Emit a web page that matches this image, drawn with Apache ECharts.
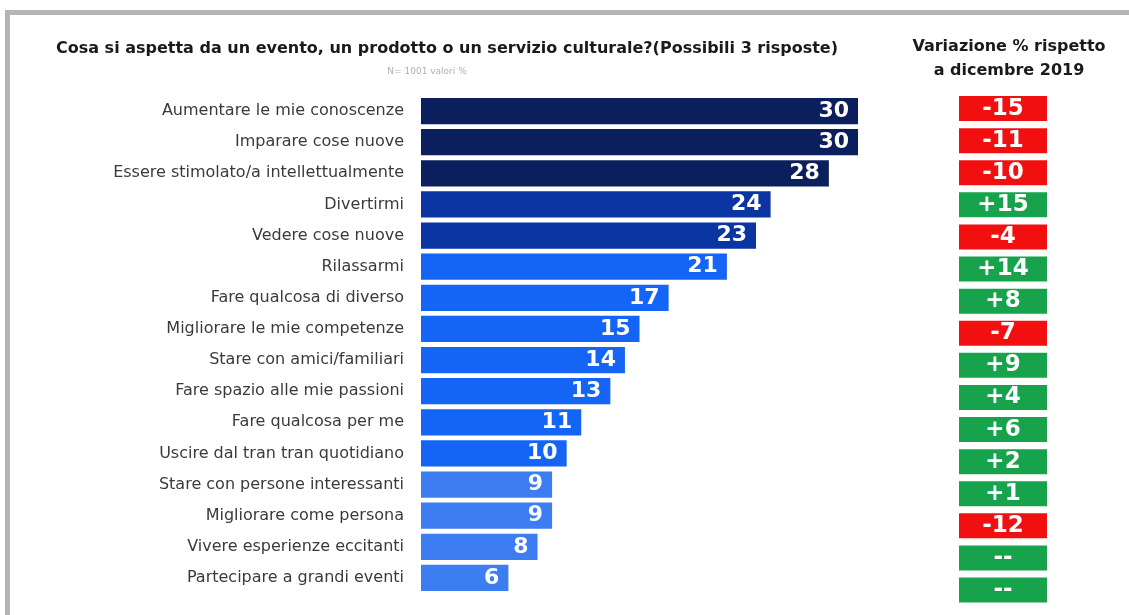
<!DOCTYPE html>
<html>
<head>
<meta charset="utf-8">
<script src="https://cdn.jsdelivr.net/npm/echarts@6/dist/echarts.min.js"></script>
<style>
  html, body { margin: 0; padding: 0; background: #ffffff; }
  #chart { width: 1129px; height: 615px; }
</style>
</head>
<body>
<div id="chart"></div>
<script>
// Survey answers, top to bottom
const categories = [
  'Aumentare le mie conoscenze',
  'Imparare cose nuove',
  'Essere stimolato/a intellettualmente',
  'Divertirmi',
  'Vedere cose nuove',
  'Rilassarmi',
  'Fare qualcosa di diverso',
  'Migliorare le mie competenze',
  'Stare con amici/familiari',
  'Fare spazio alle mie passioni',
  'Fare qualcosa per me',
  'Uscire dal tran tran quotidiano',
  'Stare con persone interessanti',
  'Migliorare come persona',
  'Vivere esperienze eccitanti',
  'Partecipare a grandi eventi'
];

// Share of respondents (%)
const values = [30, 30, 28, 24, 23, 21, 17, 15, 14, 13, 11, 10, 9, 9, 8, 6];

// Change vs. December 2019 (percentage points); '--' = not available
const variations = ['-15', '-11', '-10', '+15', '-4', '+14', '+8', '-7', '+9', '+4', '+6', '+2', '+1', '-12', '--', '--'];

const titleText = 'Cosa si aspetta da un evento, un prodotto o un servizio culturale?(Possibili 3 risposte)';
const subtitleText = 'N= 1001 valori %';
const sideTitleText = 'Variazione % rispetto\na dicembre 2019';

const FONT = '"DejaVu Sans", sans-serif';

// Bar shade by value band
function barColor(v) {
  if (v >= 28) return '#0b1f5c';
  if (v >= 23) return '#0a35a3';
  if (v >= 10) return '#1464f5';
  return '#3c7df2';
}

function boxColor(s) {
  return (s.charAt(0) === '-' && s !== '--') ? '#f20f0f' : '#17a24c';
}

const chart = echarts.init(document.getElementById('chart'), null, { renderer: 'canvas' });

chart.setOption({
  backgroundColor: '#ffffff',
  animation: false,
  graphic: [
    { type: 'rect', shape: { x: 5, y: 10, width: 1124, height: 5 }, style: { fill: '#b5b5b5' } },
    { type: 'rect', shape: { x: 5, y: 10, width: 5, height: 605 }, style: { fill: '#b5b5b5' } }
  ],
  title: [
    {
      text: titleText,
      left: 442, top: 36, textAlign: 'center',
      textStyle: { fontFamily: FONT, fontSize: 16, fontWeight: 'bold', color: '#1a1a1a' }
    },
    {
      text: subtitleText,
      left: 422, top: 62, textAlign: 'center',
      textStyle: { fontFamily: FONT, fontSize: 9, fontWeight: 'normal', color: '#b0b0b0' }
    },
    {
      text: sideTitleText,
      left: 1004, top: 30, textAlign: 'center',
      textStyle: { fontFamily: FONT, fontSize: 16, fontWeight: 'bold', color: '#1a1a1a', lineHeight: 24 }
    }
  ],
  grid: [
    { left: 421, top: 95.5, width: 437, height: 498 },
    { left: 959, top: 92.5, width: 88, height: 513.6 }
  ],
  xAxis: [
    { gridIndex: 0, type: 'value', min: 0, max: 30, show: false },
    { gridIndex: 1, type: 'category', data: [''], show: false }
  ],
  yAxis: [
    {
      gridIndex: 0, type: 'category', data: categories, inverse: true,
      axisLine: { show: false }, axisTick: { show: false },
      axisLabel: { margin: 17, fontFamily: FONT, fontSize: 16, color: '#3a3a3a' }
    },
    {
      gridIndex: 1, type: 'category', data: categories, inverse: true, show: false
    }
  ],
  series: [
    {
      type: 'bar',
      xAxisIndex: 0, yAxisIndex: 0,
      barCategoryGap: '16%',
      data: values.map(v => ({ value: v, itemStyle: { color: barColor(v) } })),
      label: {
        show: true, position: 'insideRight', distance: 9,
        color: '#ffffff', fontFamily: FONT, fontSize: 22, fontWeight: 'bold'
      }
    },
    {
      type: 'scatter',
      xAxisIndex: 1, yAxisIndex: 1,
      symbol: 'rect',
      symbolSize: [88, 25],
      data: variations.map((s, i) => ({
        value: ['', categories[i]],
        itemStyle: { color: boxColor(s), opacity: 1 },
        label: { formatter: s }
      })),
      label: {
        show: true, position: 'inside',
        color: '#ffffff', fontFamily: FONT, fontSize: 23, fontWeight: 'bold'
      }
    }
  ]
});
</script>
</body>
</html>
